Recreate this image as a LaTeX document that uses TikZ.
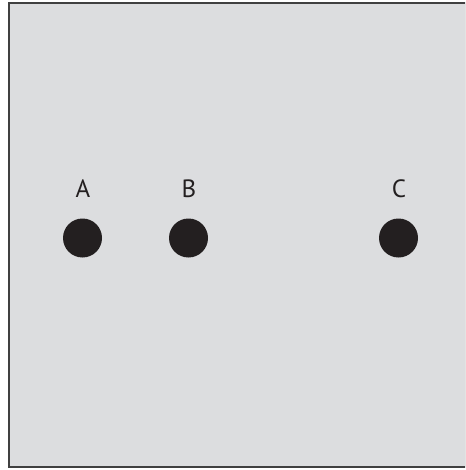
\documentclass[tikz,border=0pt]{standalone}
\usepackage{fontspec}
\setmainfont{PT Sans}
\definecolor{bg}{HTML}{DCDDDF}
\definecolor{dot}{HTML}{231F20}
\begin{document}
\begin{tikzpicture}[x=1pt,y=-1pt,
  dotnode/.style={circle,fill=dot,inner sep=0pt,minimum size=39pt},
  lbl/.style={font=\fontsize{25}{25}\selectfont,text=dot,inner sep=0pt,anchor=base}]
\useasboundingbox (0,0) rectangle (465,470);
\begin{scope}
\clip (0,0) rectangle (465,470);
\draw[fill=bg,draw=black!75,line width=1.3pt] (9,3) rectangle (466,467);
\end{scope}
\node[dotnode] (a) at (82.5,238) {};
\node[dotnode] (b) at (188.5,238) {};
\node[dotnode] (c) at (398.5,238) {};
\node[lbl] (la) at (83,197) {A};
\node[lbl] (lb) at (189,197) {B};
\node[lbl] (lc) at (399,197) {C};
\end{tikzpicture}
\end{document}
